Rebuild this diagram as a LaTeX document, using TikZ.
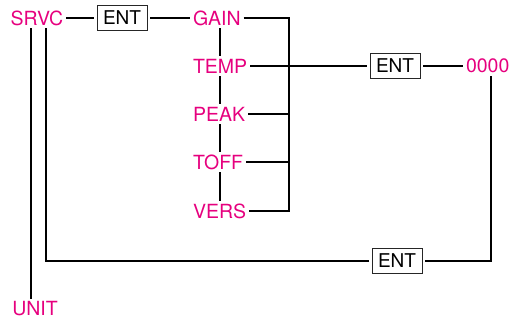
\documentclass[tikz,border=0pt]{standalone}
\usepackage{fontspec}
\setmainfont{TeX Gyre Heros}
\definecolor{menupink}{RGB}{230,0,126}
\tikzset{
  menu/.style={text=menupink, inner sep=0pt, outer sep=3pt, font=\fontsize{19.5}{21}\selectfont},
  entkey/.style={draw=black!85, line width=0.8pt, minimum width=50pt, minimum height=25pt, inner sep=0pt, outer sep=3pt, font=\fontsize{19}{21}\selectfont},
  wire/.style={line width=2pt}
}
\begin{document}
\begin{tikzpicture}[x=1pt,y=-1pt]
    \useasboundingbox (0,0) rectangle (513,320);
    \node[menu] (srvc) at (37,18) {SRVC};
    \node[entkey] (enta) at (122,18) {ENT};
    \node[menu, anchor=west] (gain) at (190,18) {GAIN};
    \node[menu, anchor=west] (temp) at (190,66) {TEMP};
    \node[menu, anchor=west] (peak) at (190,114) {PEAK};
    \node[menu, anchor=west] (toff) at (190,162) {TOFF};
    \node[menu, anchor=west] (vers) at (190,211) {VERS};
    \node[entkey] (entb) at (395,66) {ENT};
    \node[menu, anchor=west] (zero) at (463,66) {0000};
    \node[entkey] (entc) at (397,261) {ENT};
    \node[menu] (unit) at (35,309) {UNIT};
    \coordinate (bar) at (289,0);
    \coordinate (drop) at (491,0);
    \coordinate (inleg) at (46,0);
    \coordinate (outleg) at (31,0);
    \foreach \a/\b in {srvc/enta, enta/gain, temp/entb, entb/zero}
      \draw[wire] (\a) -- (\b);
    \foreach \a/\b in {gain/temp, temp/peak, peak/toff, toff/vers}
      \draw[wire] (\a.south -| temp) -- (\b.north -| temp);
    \draw[wire] (gain.east) -| (bar |- vers) -- (vers.east);
    \foreach \n in {peak, toff}
      \draw[wire] (\n.east) -- (\n.east -| bar);
    \draw[wire] (zero.south -| drop) |- (entc.east);
    \draw[wire] (entc.west) -| (srvc.south -| inleg);
    \draw[wire] (srvc.south -| outleg) -- (unit.north -| outleg);
\end{tikzpicture}
\end{document}
